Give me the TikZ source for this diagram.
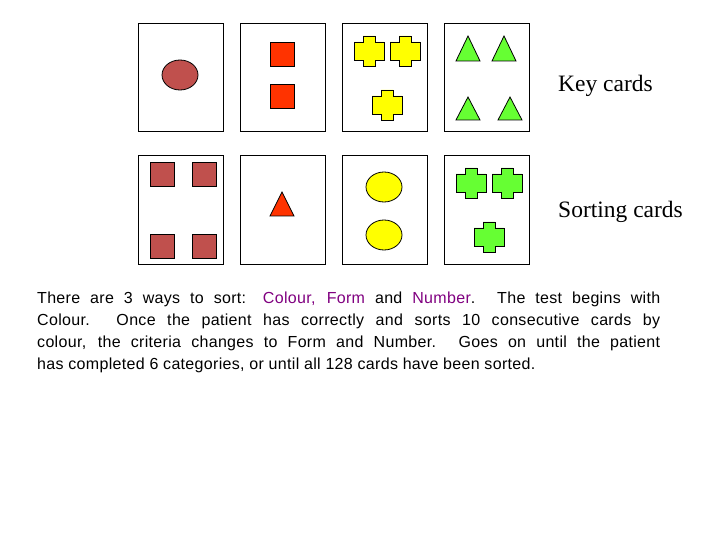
\documentclass[tikz,border=0pt]{standalone}
\usepackage{fontspec}
\setmainfont{Liberation Serif}
\newfontfamily\arial[LetterSpace=2]{Liberation Sans}
\definecolor{brn}{RGB}{192,80,77}
\definecolor{rd}{RGB}{255,51,0}
\definecolor{yl}{RGB}{255,255,0}
\definecolor{gr}{RGB}{102,255,51}
\definecolor{pur}{RGB}{128,0,128}
\begin{document}
\begin{tikzpicture}[x=1pt,y=-1pt,
  card/.style={draw,line width=1pt},
  shp/.style={draw,line width=0.8pt},
  lab/.style={anchor=west,font=\fontsize{23.5}{28}\selectfont,inner sep=0}]
\useasboundingbox (0,0) rectangle (720,540);
\def\crossat#1#2#3{\filldraw[shp,fill=#3] (#1-6,#2-15) -- (#1+6,#2-15) -- (#1+6,#2-9) -- (#1+15,#2-9) -- (#1+15,#2+9) -- (#1+6,#2+9) -- (#1+6,#2+15) -- (#1-6,#2+15) -- (#1-6,#2+9) -- (#1-15,#2+9) -- (#1-15,#2-9) -- (#1-6,#2-9) -- cycle;}
\def\triat#1#2#3#4{\filldraw[shp,fill=#4] (#1,#2) -- (#1+12,#3) -- (#1-12,#3) -- cycle;}
% cards
\foreach \x [count=\i] in {138,240,342,444}{
  \draw[card] (\x,24) rectangle (\x+85,132);
  \draw[card] (\x,156) rectangle (\x+85,264);}
% top row
\filldraw[shp,fill=brn] (180,75) ellipse (18 and 15);
\filldraw[shp,fill=rd] (270,42) rectangle (294,66);
\filldraw[shp,fill=rd] (270,84) rectangle (294,108);
\crossat{369}{51}{yl}\crossat{405}{51}{yl}\crossat{387}{105}{yl}
\triat{468}{36}{61}{gr}\triat{504}{36}{61}{gr}
\triat{468}{97}{120}{gr}\triat{510}{97}{120}{gr}
% bottom row
\foreach \a in {150,192}\foreach \b in {162,234}
  \filldraw[shp,fill=brn] (\a,\b) rectangle (\a+24,\b+24);
\triat{282}{192}{216}{rd}
\filldraw[shp,fill=yl] (384,187) ellipse (18 and 15);
\filldraw[shp,fill=yl] (384,235) ellipse (18 and 15);
\crossat{471}{183}{gr}\crossat{507}{183}{gr}\crossat{489}{237}{gr}
\node[lab] (k) at (558,86) {Key cards};
\node[lab] (s) at (558,212) {Sorting cards};
\node[anchor=north west,inner sep=0,text width=623pt,align=justify,
  font=\arial\fontsize{16}{22}\selectfont] (t) at (37,292)
 {There are 3 ways to sort: \textcolor{pur}{Colour, Form} and \textcolor{pur}{Number}.  The test begins with\linebreak Colour.  Once the patient has correctly and sorts 10 consecutive cards by\linebreak colour, the criteria changes to Form and Number.  Goes on until the patient\linebreak has completed 6 categories, or until all 128 cards have been sorted.};
\end{tikzpicture}
\end{document}
